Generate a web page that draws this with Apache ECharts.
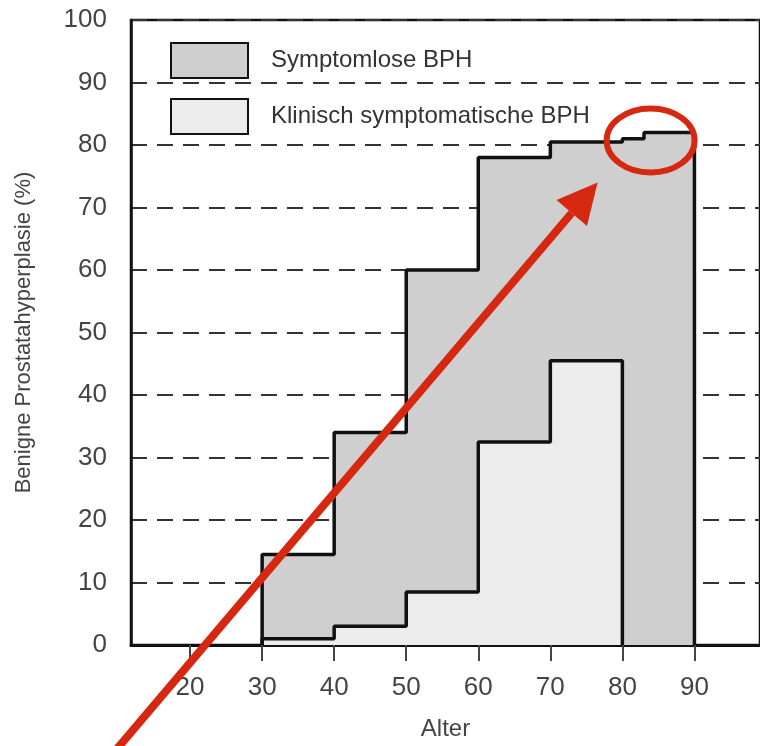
<!DOCTYPE html><html><head><meta charset="utf-8">
<script src="https://cdn.jsdelivr.net/npm/echarts@6/dist/echarts.min.js"></script>
<style>body{margin:0;background:#fff}#c{width:760px;height:746px}</style></head><body><div id="c"></div>
<script>
const ageTicks=[20,30,40,50,60,70,80,90];
const symptomlose=[[30,0],[30,14.5],[40,34],[50,60],[60,78],[70,80.5],[80,81],[83,82],[90,82],[90,0]];
const klinisch=[[30,0],[30,1],[40,3],[50,8.5],[60,32.5],[70,45.5],[80,0]];
const ch=echarts.init(document.getElementById('c'));
ch.setOption({
 animation:false,
 grid:{left:131,right:-6,top:20,bottom:101,show:true,borderColor:'#111',borderWidth:2.5},
 legend:{orient:'vertical',left:165,top:37,itemWidth:77,itemHeight:35,itemGap:19,icon:'rect',
  textStyle:{fontSize:24,color:'#333',fontFamily:'Liberation Sans',padding:[0,0,0,18]},
  data:['Symptomlose BPH','Klinisch symptomatische BPH']},
 xAxis:{type:'value',min:11.8,max:99.1,
  axisLine:{lineStyle:{color:'#111',width:3}},
  axisTick:{customValues:ageTicks,length:16,lineStyle:{color:'#444',width:2}},
  axisLabel:{customValues:ageTicks,fontSize:26,color:'#444',margin:30,fontFamily:'Liberation Sans'},
  splitLine:{show:false},name:'Alter',nameLocation:'middle',nameGap:72,
  nameTextStyle:{fontSize:24,color:'#444',fontFamily:'Liberation Sans'}},
 yAxis:{type:'value',min:0,max:100,interval:10,
  axisLine:{show:true,lineStyle:{color:'#111',width:2.5}},axisTick:{show:false},
  axisLabel:{fontSize:26,color:'#444',margin:24,fontFamily:'Liberation Sans'},
  splitLine:{lineStyle:{color:'#333',width:2,type:[16,10]}},
  name:'Benigne Prostatahyperplasie (%)',nameLocation:'middle',nameGap:96,
  nameTextStyle:{fontSize:22,color:'#444',fontFamily:'Liberation Sans'}},
 series:[
  {name:'Symptomlose BPH',type:'line',step:'end',data:symptomlose,symbol:'none',
   itemStyle:{color:'#cfcfcf',borderColor:'#111',borderWidth:1.5},
   lineStyle:{color:'#111',width:3.5},areaStyle:{color:'#cfcfcf',opacity:1}},
  {name:'Klinisch symptomatische BPH',type:'line',step:'end',data:klinisch,symbol:'none',
   itemStyle:{color:'#ececec',borderColor:'#111',borderWidth:1.5},
   lineStyle:{color:'#111',width:3.5},areaStyle:{color:'#ececec',opacity:1}}
 ]
});
const p0=ch.convertToPixel({xAxisIndex:0,yAxisIndex:0},[83.5,82]);
const tip=[p0[0]-50,p0[1]+50];
const st=[116,750];
const ang=Math.atan2(tip[1]-st[1],tip[0]-st[0]);
const L=40,W=20;
const bx=tip[0]-L*Math.cos(ang),by=tip[1]-L*Math.sin(ang);
const nx=-Math.sin(ang),ny=Math.cos(ang);
ch.setOption({graphic:[
 {type:'line',shape:{x1:st[0],y1:st[1],x2:bx,y2:by},style:{stroke:'#d62810',lineWidth:8},z:100},
 {type:'polygon',shape:{points:[tip,[bx+nx*W,by+ny*W],[bx-nx*W,by-ny*W]]},style:{fill:'#d62810'},z:100},
 {type:'ellipse',shape:{cx:p0[0]+3,cy:p0[1]+8,rx:44,ry:32},style:{fill:'none',stroke:'#d62810',lineWidth:6},z:100}
]});
</script></body></html>
